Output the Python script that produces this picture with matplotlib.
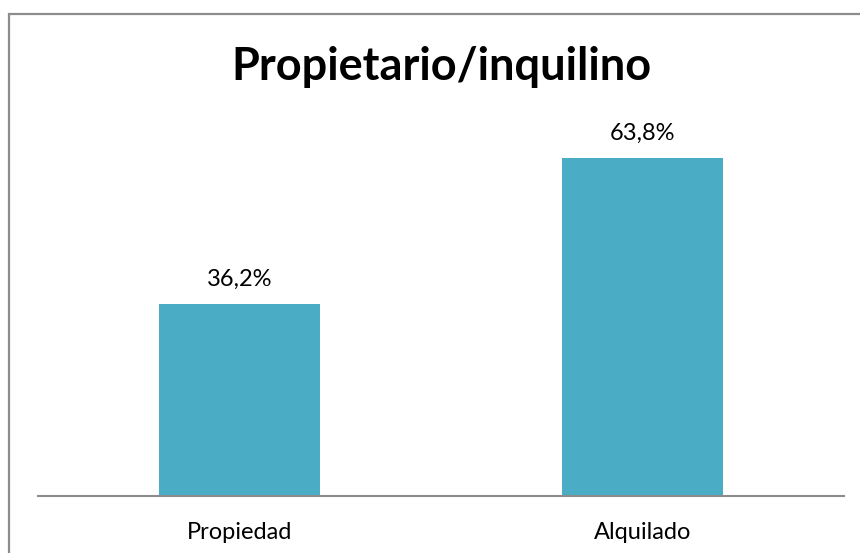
import matplotlib
matplotlib.use('Agg')
import matplotlib.pyplot as plt
from matplotlib.patches import Rectangle

categories = ['Propiedad', 'Alquilado']
values = [36.2, 63.8]
title = 'Propietario/inquilino'

plt.rcParams['font.family'] = ['Lato', 'DejaVu Sans']

fig = plt.figure(figsize=(8.6, 5.53), dpi=100)
fig.patch.set_facecolor('white')

# chart border (right/bottom edges fall outside the picture)
fig.patches.append(Rectangle((9 / 860, -0.2), 1.2, 539 / 553 + 0.2,
                             transform=fig.transFigure, fill=False,
                             edgecolor='#8c8c8c', linewidth=1.6))

ax = fig.add_axes([38 / 860, 57 / 553, 806 / 860, 371 / 553])
xs = range(len(categories))
bars = ax.bar(xs, values, width=0.4, color='#4bacc6')
ax.set_xlim(-0.5, len(categories) - 0.5)
ax.set_ylim(0, 70)

for b, v in zip(bars, values):
    ax.annotate(f'{v:.1f}%'.replace('.', ','),
                (b.get_x() + b.get_width() / 2, b.get_height()),
                xytext=(0, 13), textcoords='offset points',
                ha='center', va='baseline', fontsize=17, color='black')

for s in ['top', 'right', 'left']:
    ax.spines[s].set_visible(False)
ax.spines['bottom'].set_color('#8c8c8c')
ax.spines['bottom'].set_linewidth(1.5)
ax.set_yticks([])
ax.set_xticks(list(xs))
ax.set_xticklabels(categories, fontsize=17)
ax.tick_params(axis='x', length=0, pad=19)

fig.text(441.5 / 860, (553 - 80) / 553, title, ha='center', va='baseline',
         fontsize=32.5, fontweight='bold')

fig.savefig('out.png', dpi=100)
